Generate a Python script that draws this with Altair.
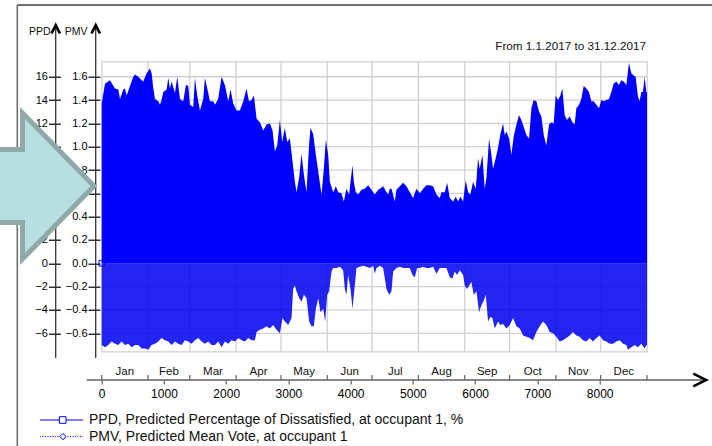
import altair as alt
import pandas as pd

# ---------------- data ----------------
ppd_hours = [0, 53, 133, 213, 267, 294, 347, 374, 401, 454, 508, 535, 588, 642, 668, 722, 775, 802, 829, 856,
             909, 936, 962, 989, 1043, 1070, 1096, 1123, 1177, 1214, 1257, 1310, 1353, 1391, 1417, 1471, 1498,
             1535, 1578, 1631, 1658, 1696, 1739, 1792, 1819, 1872, 1926, 1979, 2033, 2070, 2113, 2167, 2220,
             2274, 2327, 2365, 2407, 2445, 2488, 2541, 2595, 2648, 2702, 2745, 2782, 2820, 2862, 2900, 2942,
             2980, 3023, 3066, 3103, 3130, 3173, 3210, 3248, 3290, 3333, 3355, 3397, 3440, 3478, 3531, 3569,
             3601, 3638, 3665, 3719, 3761, 3799, 3852, 3890, 3932, 3975, 3997, 4029, 4050, 4082, 4120, 4173,
             4227, 4280, 4334, 4387, 4441, 4468, 4521, 4575, 4602, 4628, 4655, 4709, 4735, 4789, 4842, 4896,
             4949, 5003, 5056, 5110, 5164, 5217, 5271, 5324, 5378, 5431, 5458, 5511, 5549, 5592, 5645, 5688,
             5725, 5763, 5806, 5848, 5886, 5923, 5966, 6009, 6046, 6073, 6116, 6153, 6180, 6223, 6260, 6287,
             6330, 6367, 6405, 6448, 6474, 6501, 6544, 6582, 6619, 6662, 6705, 6742, 6780, 6822, 6865, 6903,
             6940, 6983, 7026, 7063, 7101, 7143, 7186, 7224, 7261, 7293, 7331, 7368, 7400, 7438, 7475, 7518,
             7561, 7598, 7625, 7668, 7705, 7743, 7786, 7828, 7866, 7903, 7946, 7989, 8026, 8064, 8107, 8149,
             8187, 8224, 8267, 8310, 8347, 8385, 8428, 8470, 8508, 8545, 8577, 8615, 8642, 8668, 8695, 8722,
             8749, 8760]
ppd_values = [13.7, 15.4, 15.7, 15.0, 14.9, 14.1, 14.9, 15.0, 14.4, 15.2, 16.0, 16.2, 16.0, 15.7, 15.6, 16.3,
              16.7, 16.3, 15.0, 14.1, 13.9, 13.6, 14.0, 14.7, 14.9, 15.9, 15.0, 15.6, 14.6, 16.0, 14.1, 13.9,
              15.3, 15.2, 13.6, 13.4, 15.9, 14.4, 13.1, 14.1, 15.9, 15.0, 13.9, 13.9, 13.6, 14.1, 16.0, 15.3,
              13.9, 14.9, 13.7, 13.1, 13.1, 13.9, 15.0, 13.9, 14.0, 14.4, 12.4, 12.1, 11.4, 11.9, 12.0, 11.4,
              9.6, 10.1, 12.3, 10.4, 11.6, 10.4, 10.7, 8.7, 7.0, 6.1, 7.4, 9.4, 7.6, 6.1, 10.3, 11.6, 11.1, 9.3,
              7.9, 5.9, 8.1, 10.6, 9.3, 7.0, 6.1, 6.6, 6.1, 6.0, 5.3, 6.4, 5.9, 7.0, 8.4, 7.0, 6.1, 5.9, 6.3,
              6.4, 6.7, 6.3, 5.9, 6.3, 6.4, 6.6, 6.1, 5.9, 6.4, 6.4, 5.3, 6.3, 6.6, 6.9, 6.6, 6.1, 5.6, 6.4,
              6.0, 6.4, 6.7, 6.7, 6.6, 5.9, 5.6, 6.1, 6.1, 6.9, 5.6, 5.3, 5.7, 5.3, 5.7, 5.3, 7.1, 6.1, 5.9,
              7.0, 6.4, 9.0, 8.1, 9.3, 6.4, 7.3, 10.7, 9.3, 8.1, 9.0, 9.9, 11.1, 12.0, 11.0, 11.3, 10.7, 9.3,
              10.9, 11.9, 12.7, 12.3, 11.7, 11.0, 10.7, 13.3, 14.0, 13.9, 13.0, 12.6, 11.0, 10.1, 11.9, 12.1,
              12.0, 14.4, 14.0, 14.4, 15.0, 12.7, 12.3, 12.6, 12.1, 11.9, 13.3, 13.6, 14.1, 15.2, 15.0, 14.7,
              13.9, 13.9, 13.6, 13.3, 14.0, 13.9, 14.0, 14.1, 14.7, 15.4, 15.6, 15.3, 15.7, 15.6, 15.3, 17.2,
              16.3, 16.1, 16.0, 14.3, 13.9, 14.7, 14.7, 16.0, 14.7, 14.7]

pmv_hours = [0, 53, 106, 160, 213, 267, 320, 374, 428, 481, 535, 588, 642, 695, 749, 802, 856, 909, 962, 1016,
             1070, 1123, 1177, 1230, 1284, 1337, 1391, 1444, 1498, 1551, 1605, 1658, 1712, 1765, 1819, 1872,
             1926, 1979, 2033, 2086, 2140, 2193, 2247, 2300, 2354, 2407, 2461, 2488, 2541, 2595, 2648, 2702,
             2755, 2809, 2862, 2905, 2942, 2996, 3050, 3076, 3103, 3130, 3173, 3210, 3248, 3290, 3333, 3371,
             3408, 3440, 3478, 3515, 3558, 3590, 3622, 3654, 3692, 3719, 3772, 3826, 3879, 3906, 3932, 3959,
             3997, 4029, 4066, 4093, 4147, 4200, 4254, 4307, 4361, 4387, 4414, 4468, 4521, 4575, 4618, 4655,
             4682, 4735, 4789, 4842, 4896, 4949, 4992, 5030, 5067, 5110, 5164, 5217, 5271, 5324, 5378, 5431,
             5485, 5538, 5592, 5634, 5672, 5709, 5752, 5806, 5832, 5870, 5902, 5939, 5977, 6020, 6062, 6100,
             6137, 6170, 6207, 6244, 6276, 6314, 6367, 6405, 6448, 6501, 6555, 6608, 6662, 6715, 6769, 6822,
             6876, 6929, 6983, 7036, 7090, 7143, 7197, 7250, 7304, 7357, 7411, 7464, 7518, 7571, 7625, 7678,
             7732, 7786, 7839, 7893, 7946, 8000, 8053, 8107, 8160, 8214, 8267, 8321, 8374, 8428, 8454, 8508,
             8561, 8615, 8668, 8722, 8749, 8760]
pmv_values = [-0.70, -0.72, -0.70, -0.67, -0.69, -0.70, -0.67, -0.70, -0.69, -0.72, -0.70, -0.70, -0.73, -0.73,
              -0.74, -0.70, -0.69, -0.67, -0.64, -0.66, -0.67, -0.70, -0.67, -0.69, -0.70, -0.66, -0.67, -0.69,
              -0.66, -0.64, -0.67, -0.69, -0.67, -0.70, -0.70, -0.67, -0.72, -0.67, -0.69, -0.66, -0.67, -0.64,
              -0.66, -0.67, -0.64, -0.66, -0.66, -0.59, -0.57, -0.56, -0.54, -0.56, -0.53, -0.57, -0.60, -0.47,
              -0.50, -0.53, -0.47, -0.22, -0.19, -0.24, -0.30, -0.33, -0.27, -0.30, -0.50, -0.54, -0.54, -0.39,
              -0.30, -0.42, -0.39, -0.50, -0.27, -0.24, -0.07, -0.04, -0.04, -0.03, -0.06, -0.22, -0.27, -0.10,
              -0.22, -0.39, -0.19, -0.04, -0.03, -0.02, -0.03, -0.04, -0.02, -0.09, -0.04, -0.02, -0.04, -0.22,
              -0.27, -0.24, -0.07, -0.04, -0.03, -0.04, -0.04, -0.04, -0.10, -0.12, -0.04, -0.04, -0.03, -0.04,
              -0.04, -0.03, -0.09, -0.04, -0.04, -0.04, -0.12, -0.13, -0.07, -0.10, -0.06, -0.10, -0.19, -0.22,
              -0.19, -0.16, -0.27, -0.24, -0.42, -0.36, -0.32, -0.27, -0.50, -0.46, -0.47, -0.56, -0.50, -0.53,
              -0.52, -0.56, -0.53, -0.47, -0.54, -0.56, -0.62, -0.63, -0.64, -0.66, -0.59, -0.54, -0.50, -0.53,
              -0.59, -0.60, -0.63, -0.67, -0.66, -0.64, -0.62, -0.59, -0.62, -0.63, -0.66, -0.67, -0.64, -0.67,
              -0.64, -0.62, -0.66, -0.67, -0.69, -0.69, -0.67, -0.66, -0.69, -0.70, -0.74, -0.72, -0.70, -0.72,
              -0.69, -0.73, -0.70, -0.70]

months = ["Jan", "Feb", "Mar", "Apr", "May", "Jun", "Jul", "Aug", "Sep", "Oct", "Nov", "Dec"]
month_bounds = [0, 744, 1416, 2160, 2880, 3624, 4344, 5088, 5832, 6552, 7296, 8016, 8760]
hour_ticks = [0, 1000, 2000, 3000, 4000, 5000, 6000, 7000, 8000]
pmv_ticks = [-0.6, -0.4, -0.2, 0.0, 0.2, 0.4, 0.6, 0.8, 1.0, 1.2, 1.4, 1.6]
ppd_ticks = [-6, -4, -2, 0, 2, 4, 6, 8, 10, 12, 14, 16]

title_text = "From 1.1.2017 to 31.12.2017"
legend_ppd = "PPD, Predicted Percentage of Dissatisfied, at occupant 1, %"
legend_pmv = "PMV, Predicted Mean Vote, at occupant 1"

# ---------------- layout ----------------
PL, PT = 101.7, 61.7
W, H = 545.3, 290.0
XAX = H + 28.3           # y of detached x axis line (plot coords)
FONT = "Liberation Sans"
BLUE = "#0000ff"


def px(x):
    return x - PL


def py(y):
    return y - PT


xs = alt.Scale(domain=[0, 8760], nice=False, zero=False)
pmv_scale = alt.Scale(domain=[-0.758, 1.729], nice=False, zero=False)
ppd_scale = alt.Scale(domain=[-7.58, 17.29], nice=False, zero=False)

# one shared x axis definition, used by every layer with an x field
x_axis = alt.Axis(orient="bottom", offset=28.3, values=hour_ticks, format="d", tickSize=4,
                  tickColor="#606060", tickWidth=1.2, domain=False, grid=False,
                  labelFont=FONT, labelFontSize=12, labelColor="#000000", labelPadding=4,
                  labelFlush=False, labelOverlap=False, title=None)


def X(field):
    return alt.X(field, scale=xs, axis=x_axis, title=None)


one = pd.DataFrame({"a": [0]})

df_ppd = pd.DataFrame({"h": ppd_hours, "p": ppd_values})
df_pmv = pd.DataFrame({"h": pmv_hours, "m": pmv_values})
df_bounds = pd.DataFrame({"b": month_bounds})
df_inner = pd.DataFrame({"b": month_bounds[1:-1]})
df_months = pd.DataFrame({
    "name": months,
    "mid": [(month_bounds[i] + month_bounds[i + 1]) / 2 for i in range(12)],
})
df_pmvt = pd.DataFrame({"v": pmv_ticks})

layers = []

# vertical month grid
layers.append(alt.Chart(df_inner).mark_rule(color="#d0d0d0", strokeWidth=1.3).encode(x=X("b:Q")))

# horizontal grid + PMV axis
layers.append(alt.Chart(df_pmvt).mark_rule(color="#d0d0d0", strokeWidth=1.3).encode(
    y=alt.Y("v:Q", scale=pmv_scale,
            axis=alt.Axis(orient="left", offset=1.7, values=pmv_ticks, format=".1f", tickSize=12,
                          tickColor="#000000", tickWidth=1.2, domain=False, grid=False,
                          labelFont=FONT, labelFontSize=11, labelColor="#000000", labelPadding=1,
                          labelOverlap=False, title=None))))

# PPD area (with PPD axis)
layers.append(alt.Chart(df_ppd).mark_area(color=BLUE, opacity=1).encode(
    x=X("h:Q"),
    y=alt.Y("p:Q", scale=ppd_scale,
            axis=alt.Axis(orient="left", offset=41.3, values=ppd_ticks, format="d", tickSize=12,
                          tickColor="#000000", tickWidth=1.2, domain=False, grid=False,
                          labelFont=FONT, labelFontSize=11, labelColor="#000000", labelPadding=1,
                          labelOverlap=False, title=None)),
    y2=alt.datum(0)))

# PMV area (dotted look)
layers.append(alt.Chart(df_pmv).mark_area(color="#0000f0", opacity=0.86).encode(
    x=X("h:Q"),
    y=alt.Y("m:Q", scale=pmv_scale, axis=None),
    y2=alt.datum(0)))

# start marker
layers.append(alt.Chart(df_pmv.head(1)).transform_calculate(zero="0").mark_point(
    shape="square", size=30, filled=False, color=BLUE, strokeWidth=1, opacity=1).encode(
    x=X("h:Q"),
    y=alt.Y("zero:Q", scale=pmv_scale, axis=None)))

# month ticks on detached axis
layers.append(alt.Chart(df_bounds).mark_rule(color="#606060", strokeWidth=1.2).encode(
    x=X("b:Q"), y=alt.value(XAX - 5), y2=alt.value(XAX)))

# month labels
layers.append(alt.Chart(df_months).mark_text(font=FONT, fontSize=11.5, color="#111111",
                                             baseline="middle", align="center").encode(
    x=X("mid:Q"), y=alt.value(XAX - 7.7), text="name:N"))

# x axis line and arrowhead
layers.append(alt.Chart(one).mark_rule(color="#606060", strokeWidth=1.6).encode(
    x=alt.value(px(86.7)), x2=alt.value(px(702)), y=alt.value(XAX)))
layers.append(alt.Chart(one).mark_point(shape="M-1,-1L1,0L-1,1", size=165, filled=False,
                                        stroke="#000000", strokeWidth=2.6, opacity=1).encode(
    x=alt.value(px(699.7)), y=alt.value(XAX)))

# y axis lines and arrowheads
for ax in (55.7, 95.7):
    layers.append(alt.Chart(one).mark_rule(color="#333333", strokeWidth=1.3).encode(
        x=alt.value(px(ax)), y=alt.value(py(27)), y2=alt.value(py(358))))
    layers.append(alt.Chart(one).mark_point(shape="M-1,1L0,-1L1,1", size=72, filled=False,
                                            stroke="#000000", strokeWidth=2.6, opacity=1).encode(
        x=alt.value(px(ax)), y=alt.value(py(29.3))))


def label(txt, x, y, size, align="left"):
    return alt.Chart(one).mark_text(font=FONT, fontSize=size, color="#111111", align=align,
                                    baseline="middle").encode(
        x=alt.value(px(x)), y=alt.value(py(y)), text=alt.value(txt))


layers.append(label("PPD", 50.5, 32.3, 10.5, "right"))
layers.append(label("PMV", 87.5, 32.3, 10.5, "right"))
layers.append(label(title_text, 646, 45.7, 11.7, "right"))

# outer frame (top and left edges)
layers.append(alt.Chart(one).mark_rule(color="#707070", strokeWidth=2).encode(
    x=alt.value(px(17.3)), x2=alt.value(px(712)), y=alt.value(py(5))))
layers.append(alt.Chart(one).mark_rule(color="#707070", strokeWidth=1.6).encode(
    x=alt.value(px(17.3)), y=alt.value(py(5)), y2=alt.value(py(446))))

# decorative arrow
arrow_path = ("M-0.75,-0.487L-0.313,-0.487L-0.313,-0.973L0.64,0L-0.313,0.973L-0.313,0.487L-0.75,0.487Z")
layers.append(alt.Chart(one).mark_point(shape=arrow_path, size=22500, filled=True, fill="#b8dfe0",
                                        stroke="#8fa9a9", strokeWidth=5, opacity=1).encode(
    x=alt.value(px(46)), y=alt.value(py(186))))

# legend
layers.append(alt.Chart(one).mark_rule(color=BLUE, strokeWidth=1).encode(
    x=alt.value(px(40)), x2=alt.value(px(83)), y=alt.value(py(420))))
layers.append(alt.Chart(one).mark_point(shape="square", size=44, filled=True, fill="#ffffff",
                                        stroke=BLUE, strokeWidth=1, opacity=1).encode(
    x=alt.value(px(62.7)), y=alt.value(py(420))))
layers.append(alt.Chart(one).mark_rule(color=BLUE, strokeWidth=1, strokeDash=[1, 1.5]).encode(
    x=alt.value(px(40)), x2=alt.value(px(83)), y=alt.value(py(436.6))))
layers.append(alt.Chart(one).mark_point(shape="diamond", size=40, filled=True, fill="#ffffff",
                                        stroke=BLUE, strokeWidth=1, opacity=1).encode(
    x=alt.value(px(63)), y=alt.value(py(436.6))))
layers.append(label(legend_ppd, 89, 420, 14))
layers.append(label(legend_pmv, 89, 436.6, 14))

chart = alt.layer(*layers).resolve_scale(y="independent").properties(
    width=W, height=H,
    padding={"left": PL, "top": PT, "right": 712 - PL - W, "bottom": 446 - PT - H},
    autosize=alt.AutoSizeParams(type="none"),
    background="#ffffff",
).configure_view(stroke="#d0d0d0", strokeWidth=1.3)

chart.save("out.html", embed_options={"renderer": "svg", "actions": False})
